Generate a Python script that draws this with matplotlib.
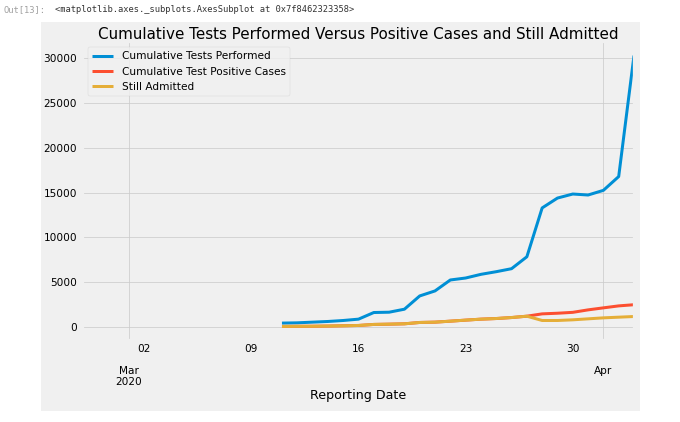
import matplotlib
matplotlib.use("Agg")
import matplotlib.pyplot as plt
import matplotlib.dates as mdates
import pandas as pd
from matplotlib.patches import Rectangle

plt.style.use("fivethirtyeight")

dates = pd.date_range("2020-03-11", "2020-04-03")
tests = [450, 480, 555, 630, 740, 890, 1630, 1665, 2000, 3480, 4040, 5260,
         5480, 5890, 6185, 6520, 7850, 13300, 14400, 14850, 14740, 15260,
         16800, 30300]
positive = [75, 90, 100, 120, 150, 185, 300, 330, 370, 520, 555, 665,
            780, 890, 960, 1070, 1220, 1480, 1550, 1650, 1925, 2150,
            2370, 2500]
admitted = [75, 90, 100, 120, 150, 185, 300, 330, 370, 520, 555, 665,
            780, 890, 960, 1070, 1220, 740, 740, 815, 925, 1035,
            1110, 1185]
labels = ["Cumulative Tests Performed", "Cumulative Test Positive Cases",
          "Still Admitted"]

W, H = 680, 422
DPI = 54
fig = plt.figure(figsize=(W / DPI, H / DPI), dpi=DPI, facecolor="white")
# grey output area of the notebook cell
fig.patches.append(Rectangle((41 / W, 1 - 411 / H), 599 / W, 389 / H,
                             transform=fig.transFigure, facecolor="#f0f0f0",
                             edgecolor="none", zorder=-5))
fig.text(3 / W, 1 - 10 / H, "Out[13]:", family="DejaVu Sans Mono",
         fontsize=11.6, color="#a0a0a0", va="center")
fig.text(55 / W, 1 - 10 / H,
         "<matplotlib.axes._subplots.AxesSubplot at 0x7f8462323358>",
         family="DejaVu Sans Mono", fontsize=11.6, color="#333333", va="center")

ax = fig.add_axes([83 / W, 1 - 340 / H, 551 / W, 298 / H])
ax.plot(dates, tests, label=labels[0])
ax.plot(dates, positive, label=labels[1])
ax.plot(dates, admitted, label=labels[2])

ax.set_xlim(pd.Timestamp("2020-02-27"), pd.Timestamp("2020-04-03"))
ax.xaxis.set_major_locator(mdates.MonthLocator())
ax.xaxis.set_major_formatter(mdates.DateFormatter("%b"))
ax.xaxis.set_minor_locator(mdates.WeekdayLocator(byweekday=mdates.MO))
ax.xaxis.set_minor_formatter(mdates.DateFormatter("%d"))
fig.canvas.draw()
ax.set_xticks(ax.get_xticks())
ax.set_xticklabels(["Mar\n2020", "Apr"])
ax.tick_params(axis="x", which="major", pad=34, labelsize=14)
ax.tick_params(axis="x", which="minor", pad=6, labelsize=14)
ax.tick_params(axis="y", pad=8, labelsize=14)
ax.grid(True, which="major")

ax.set_title("Cumulative Tests Performed Versus Positive Cases and Still Admitted",
             fontsize=20.16, pad=4)
ax.set_xlabel("Reporting Date", fontsize=16.8, labelpad=3)
ax.legend(loc="upper left", fontsize=14)

fig.savefig("out.png", dpi=DPI, facecolor="white")
